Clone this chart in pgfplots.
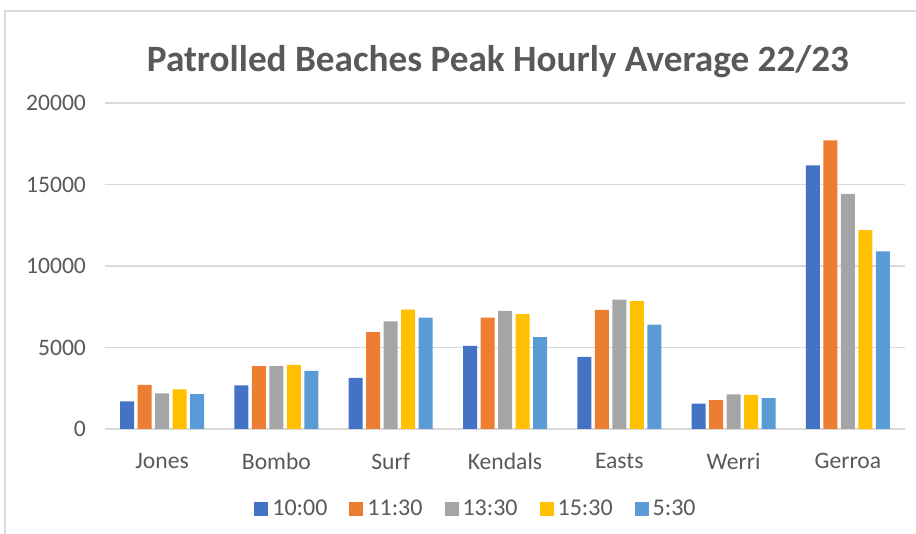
\documentclass[border=0pt]{standalone}
\usepackage{pgfplots}
\pgfplotsset{compat=1.18}
\usepackage{fontspec}
\setmainfont{Carlito}
\definecolor{c1}{HTML}{4472C4}
\definecolor{c2}{HTML}{ED7D31}
\definecolor{c3}{HTML}{A5A5A5}
\definecolor{c4}{HTML}{FFC000}
\definecolor{c5}{HTML}{5B9BD5}
\definecolor{gridc}{HTML}{D9D9D9}
\definecolor{txt}{HTML}{595959}
\begin{document}
\begin{tikzpicture}
\path[use as bounding box] (0,0) rectangle (458pt,267pt);
\draw[gridc, line width=0.75pt] (2.5pt,0) -- (2.5pt,261.5pt) -- (458pt,261.5pt);
\node[font=\fontsize{18.6}{22}\selectfont\bfseries, text=txt] at (249pt,236pt) {Patrolled Beaches Peak Hourly Average 22/23};
\begin{axis}[
  at={(52.5pt,52.5pt)}, anchor=south west,
  scale only axis, width=400pt, height=163pt,
  ybar=1.75pt, bar width=7pt,
  xmin=-0.5, xmax=6.5, ymin=0, ymax=20000,
  xtick={0,...,6},
  xticklabels={Jones,Bombo,Surf,Kendals,Easts,Werri,Gerroa},
  ytick={0,5000,10000,15000,20000},
  ymajorgrids, grid style={draw=gridc, line width=0.75pt},
  axis x line*=bottom, axis y line*=left,
  x axis line style={draw=gridc, line width=0.75pt, -},
  y axis line style={draw=none},
  major tick length=0pt,
  tick label style={font=\fontsize{11.8}{14}\selectfont, text=txt},
  yticklabel style={xshift=-6pt},
  xticklabel style={yshift=-8.5pt},
  scaled y ticks=false,
  /pgf/number format/1000 sep={},
  /pgf/number format/assume math mode=true,
  legend columns=5,
  legend style={at={(0.465,-0.245)}, anchor=center, draw=none, fill=none,
    font=\fontsize{12}{14}\selectfont, text=txt,
    /tikz/every even column/.append style={column sep=9pt}},
  legend image code/.code={\fill[#1] (0pt,-3.5pt) rectangle (7pt,3.5pt);},
]
\addplot[fill=c1, draw=none] coordinates {(0,1700) (1,2680) (2,3130) (3,5100) (4,4430) (5,1550) (6,16180)};
\addplot[fill=c2, draw=none] coordinates {(0,2700) (1,3850) (2,5950) (3,6830) (4,7310) (5,1770) (6,17700)};
\addplot[fill=c3, draw=none] coordinates {(0,2190) (1,3850) (2,6600) (3,7250) (4,7930) (5,2120) (6,14420)};
\addplot[fill=c4, draw=none] coordinates {(0,2430) (1,3930) (2,7330) (3,7040) (4,7840) (5,2100) (6,12200)};
\addplot[fill=c5, draw=none] coordinates {(0,2140) (1,3560) (2,6830) (3,5640) (4,6400) (5,1900) (6,10890)};
\legend{10:00,11:30,13:30,15:30,5:30}
\end{axis}
\end{tikzpicture}
\end{document}
